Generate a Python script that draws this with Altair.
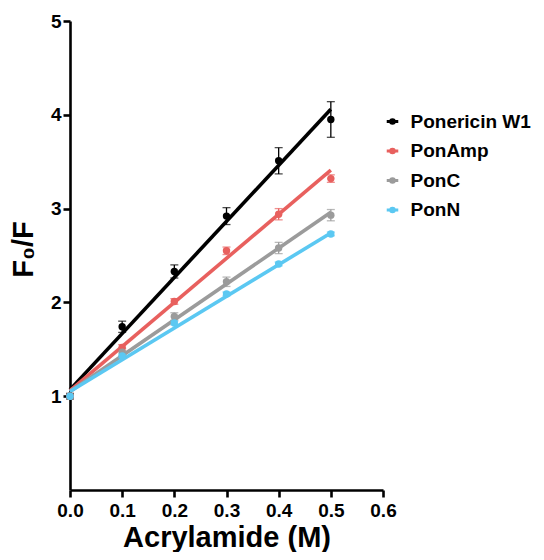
import altair as alt
import pandas as pd

series = ["Ponericin W1", "PonAmp", "PonC", "PonN"]
colors = ["#000000", "#E8605E", "#9B9B9B", "#5BC8F2"]
conc = [0.0, 0.1, 0.2, 0.3, 0.4, 0.5]

means = {
    "Ponericin W1": [1.00, 1.74, 2.33, 2.92, 3.51, 3.95],
    "PonAmp":       [1.00, 1.52, 2.01, 2.55, 2.94, 3.32],
    "PonC":         [1.00, 1.47, 1.85, 2.22, 2.58, 2.93],
    "PonN":         [1.00, 1.43, 1.78, 2.09, 2.41, 2.73],
}
errs = {
    "Ponericin W1": [0.03, 0.06, 0.07, 0.09, 0.14, 0.19],
    "PonAmp":       [0.02, 0.03, 0.03, 0.04, 0.06, 0.04],
    "PonC":         [0.02, 0.04, 0.04, 0.05, 0.06, 0.06],
    "PonN":         [0.01, 0.02, 0.02, 0.02, 0.02, 0.02],
}
fit_x = [0.0, 0.5]
fit_y = {
    "Ponericin W1": [1.07, 4.06],
    "PonAmp":       [1.06, 3.41],
    "PonC":         [1.05, 2.96],
    "PonN":         [1.05, 2.74],
}
x_ticks = [0, 0.1, 0.2, 0.3, 0.4, 0.5, 0.6]
y_ticks = [1, 2, 3, 4, 5]

rows = []
for s in series:
    for x, m, e in zip(conc, means[s], errs[s]):
        rows.append({"series": s, "x": x, "y": m, "lo": m - e, "hi": m + e})
pts = pd.DataFrame(rows)
fit = pd.DataFrame([{"series": s, "x": x, "y": y}
                    for s in series for x, y in zip(fit_x, fit_y[s])])

FONT = "Liberation Sans"
cscale = alt.Scale(domain=series, range=colors)
color = alt.Color(
    "series:N",
    scale=cscale,
    legend=alt.Legend(
        title=None, orient="none", legendX=313, legendY=91,
        labelFont=FONT, labelFontSize=19, labelFontWeight="bold", labelColor="black",
        symbolType="M-1.1,0L1.1,0M-0.35,0A0.35,0.35 0 1,1 0.35,0A0.35,0.35 0 1,1 -0.35,0Z",
        symbolSize=110, symbolStrokeWidth=3, rowPadding=9.5, labelOffset=8.5,
    ),
)
xs = alt.X("x:Q", scale=alt.Scale(domain=[0, 0.6], nice=False),
           axis=alt.Axis(values=x_ticks, format=".1f", title="Acrylamide (M)",
                         labelPadding=4, labelFlush=False,
                         titleBaseline="alphabetic", titleY=56))
ys = alt.Y("y:Q", scale=alt.Scale(domain=[0, 5], nice=False),
           axis=alt.Axis(values=y_ticks, format="d", title="F₀/F",
                         labelPadding=2, labelFlush=False, titleBaseline="alphabetic",
                         titleX=-38, titleY=228, titleAngle=270))

lines = alt.Chart(fit).mark_line(strokeWidth=3.6, clip=False).encode(
    x=xs, y=ys, color=color, order="x:Q")
bars = alt.Chart(pts).mark_errorbar(ticks=alt.TickConfig(size=8, thickness=1.3), thickness=1.3).encode(
    x="x:Q", y=alt.Y("lo:Q", title="F₀/F"), y2="hi:Q",
    color=alt.Color("series:N", scale=cscale, legend=None))
points = alt.Chart(pts).mark_circle(size=55, opacity=1).encode(
    x="x:Q", y="y:Q", color=color)

chart = alt.layer(lines, bars, points).properties(
    width=313, height=469,
    autosize=alt.AutoSizeParams(type="none"),
    padding={"left": 62, "top": 13, "right": 153, "bottom": 62},
).configure_view(stroke=None).configure_axis(
    grid=False, domainColor="black", domainWidth=2.6, tickColor="black", tickWidth=2.6,
    tickSize=7, labelFont=FONT, labelFontSize=19, labelFontWeight="bold", labelColor="black",
    titleFont=FONT, titleFontSize=29, titleFontWeight="bold", titleColor="black")

chart.save("out.html", embed_options={"renderer": "svg", "actions": False})
